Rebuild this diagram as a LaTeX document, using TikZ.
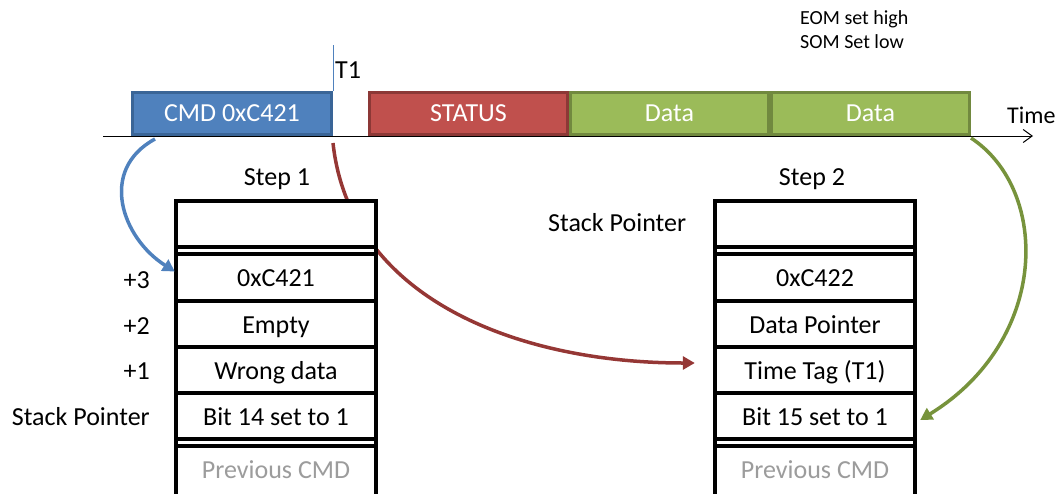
\documentclass[tikz,border=0pt]{standalone}
\usepackage{fontspec}
\setmainfont{Carlito}
\usepackage{tikz}
\usetikzlibrary{arrows.meta,backgrounds}
\definecolor{cmdblue}{HTML}{4F81BD}
\definecolor{cmdedge}{HTML}{3A6597}
\definecolor{statred}{HTML}{C0504D}
\definecolor{statedge}{HTML}{8C3836}
\definecolor{datagreen}{HTML}{9BBB59}
\definecolor{dataedge}{HTML}{71893F}
\definecolor{redflow}{HTML}{953735}
\definecolor{greenflow}{HTML}{77933C}
\definecolor{prevgray}{HTML}{9C9C9C}
\tikzstyle{frame}=[draw, line width=3pt, minimum width=199pt, minimum height=42pt, inner sep=0pt, text=white]
\tikzstyle{cell}=[minimum width=200pt, minimum height=46pt, inner sep=0pt, text height=17pt, text depth=5pt]
\tikzstyle{lab}=[inner sep=0pt, text height=17pt, text depth=5pt]
\tikzstyle{stackline}=[line width=4pt]
\tikzstyle{flow}=[line width=3.5pt, -{Triangle[length=12pt,width=13pt]}]

\begin{document}
\begin{tikzpicture}[x=1pt, y=-1pt, font=\fontsize{26}{30}\selectfont]
\useasboundingbox (0,0) rectangle (1062,493);

% time axis
\coordinate (t0) at (103,136);
\coordinate (tend) at (1033,136);
\draw[line width=1pt, -{Straight Barb[length=9pt,width=13pt]}] (t0) -- (tend);
\node[lab, anchor=west, font=\fontsize{24}{28}\selectfont] (time) at (1007,117) {Time};

% message
\node[frame, fill=cmdblue, draw=cmdedge] (cmd) at (232,113.5) {CMD 0xC421};
\node[frame, fill=statred, draw=statedge, minimum width=198pt] (status) at (468.5,113.5) {STATUS};
\node[frame, fill=datagreen, draw=dataedge, minimum width=198pt] (dataA) at (669.5,113.5) {Data};
\node[frame, fill=datagreen, draw=dataedge, minimum width=198pt] (dataB) at (870.5,113.5) {Data};

% T1
\coordinate (t1) at (333,45);
\draw[cmdblue, line width=1pt] (cmd.north east) -- (t1);
\node[lab, anchor=west] (t1lab) at (335,72) {T1};

\node[inner sep=0pt, anchor=west, font=\fontsize{20}{24}\selectfont] (eom) at (800,19) {EOM set high};
\node[inner sep=0pt, anchor=west, font=\fontsize{20}{24}\selectfont] (som) at (800,42) {SOM Set low};

% stacks
\node[lab] (step1) at (277,179) {Step 1};
\node[lab] (step2) at (812,179) {Step 2};

\foreach \x in {176,715} {
    \fill[white] (\x,201) rectangle (\x+200,495);
    \foreach \y in {201,247,254,301,347,393,439,446}
        \draw[stackline] (\x,\y) -- (\x+200,\y);
    \draw[stackline] (\x,199) -- (\x,495);
    \draw[stackline] (\x+200,199) -- (\x+200,495);
}

\node[cell] (l0) at (276,227) {};
\node[cell] (l3) at (276,280.5) {0xC421};
\node[cell] (l2) at (276,327) {Empty};
\node[cell] (l1) at (276,373) {Wrong data};
\node[cell] (lsp) at (276,419) {Bit 14 set to 1};
\node[cell, text=prevgray] (lprev) at (276,472.5) {Previous CMD};

\node[cell] (r0) at (815,227) {};
\node[cell] (r3) at (815,280.5) {0xC422};
\node[cell] (r2) at (815,327) {Data Pointer};
\node[cell] (r1) at (815,373) {Time Tag (T1)};
\node[cell] (rsp) at (815,419) {Bit 15 set to 1};
\node[cell, text=prevgray] (rprev) at (815,472.5) {Previous CMD};

\node[lab, anchor=east] (p3) at (150,282.5) {+3};
\node[lab, anchor=east] (p2) at (150,328.5) {+2};
\node[lab, anchor=east] (p1) at (150,373) {+1};
\node[lab, anchor=east] (lptr) at (150,419) {Stack Pointer};
\node[lab, anchor=west] (rptr) at (548,225.5) {Stack Pointer};

% arrows
\begin{scope}[on background layer]
\draw[flow, redflow] ([yshift=-7pt]cmd.south east) .. controls (350,300) and (520,363) .. ([xshift=-20pt,yshift=10pt]r1.west);
\end{scope}
\draw[flow, cmdblue] ([xshift=24pt,yshift=-3pt]cmd.south west) .. controls (98,170) and (122,238) .. ([xshift=-1pt,yshift=9pt]l3.west);
\draw[flow, greenflow] ([yshift=-2pt]dataB.south east) .. controls (1050,190) and (1050,340) .. ([xshift=5pt,yshift=-1pt]rsp.east);

\end{tikzpicture}
\end{document}
